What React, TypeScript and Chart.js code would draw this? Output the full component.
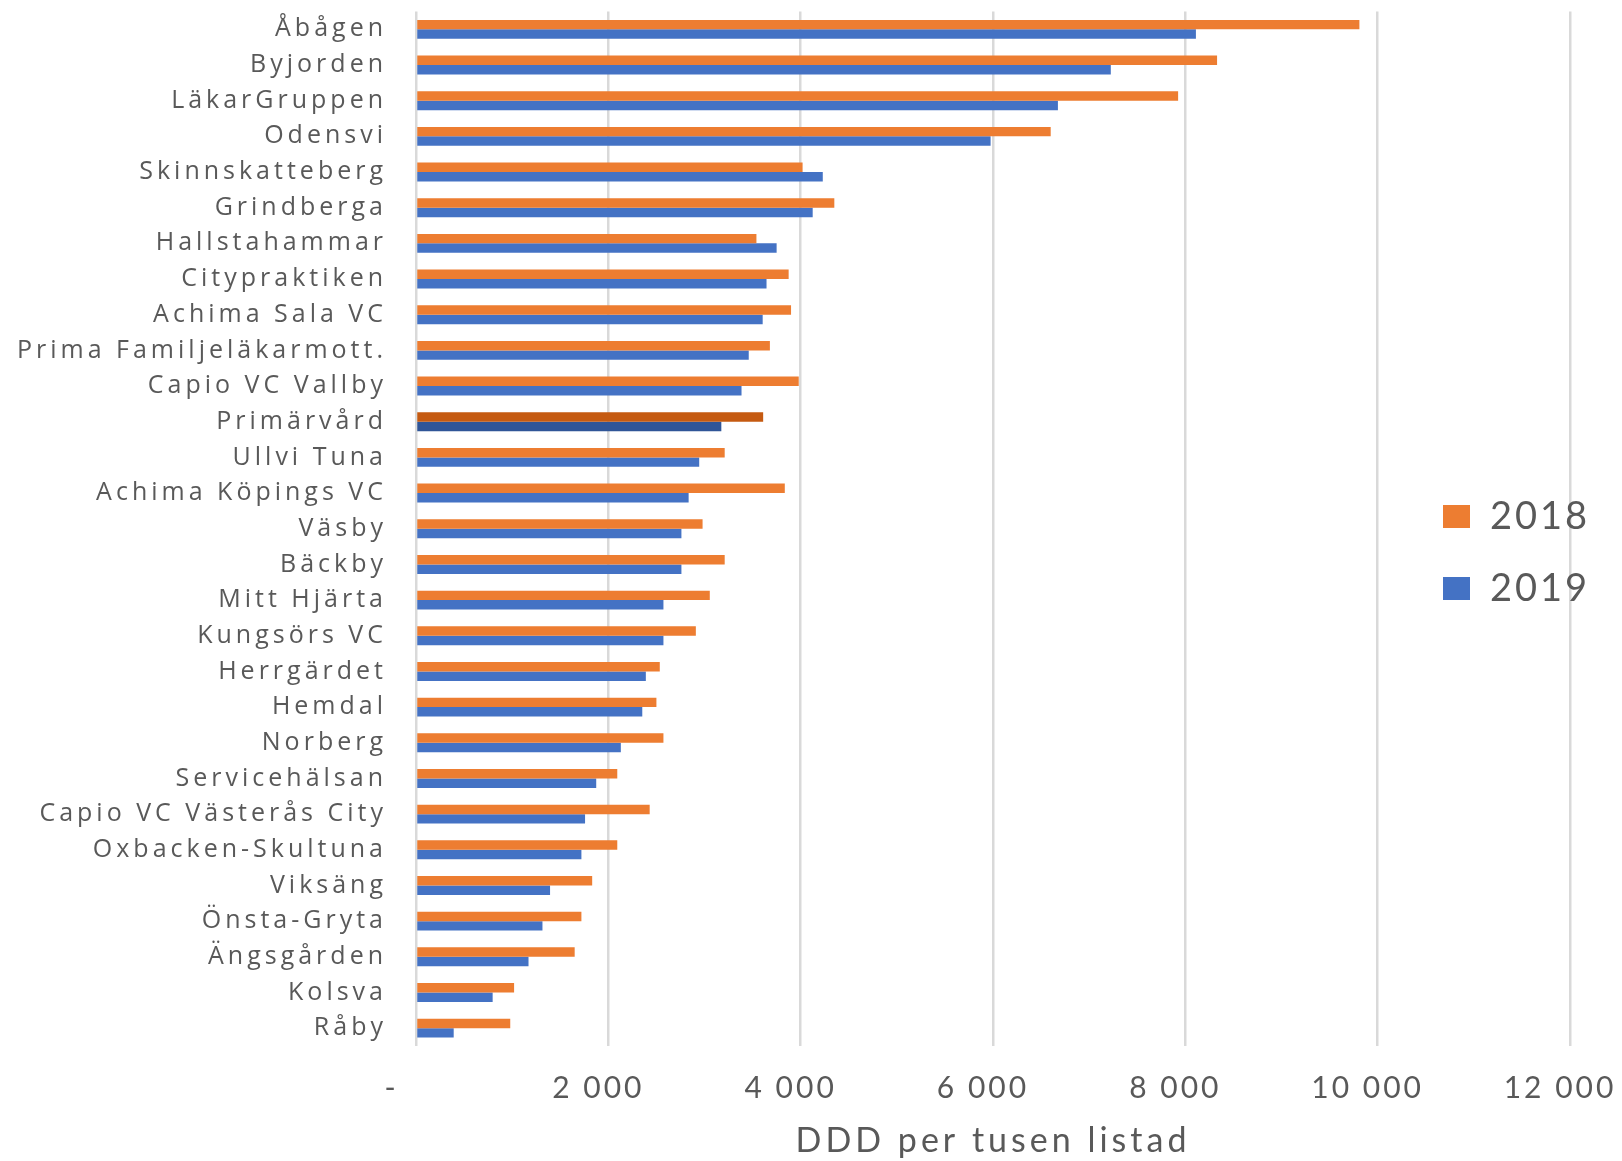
import React, { useEffect, useRef } from "react";
import { Chart, registerables } from "chart.js";

Chart.register(...registerables);

const categories = [
  "Åbågen", "Byjorden", "LäkarGruppen", "Odensvi", "Skinnskatteberg", "Grindberga",
  "Hallstahammar", "Citypraktiken", "Achima Sala VC", "Prima Familjeläkarmott.",
  "Capio VC Vallby", "Primärvård", "Ullvi Tuna", "Achima Köpings VC", "Väsby", "Bäckby",
  "Mitt Hjärta", "Kungsörs VC", "Herrgärdet", "Hemdal", "Norberg", "Servicehälsan",
  "Capio VC Västerås City", "Oxbacken-Skultuna", "Viksäng", "Önsta-Gryta", "Ängsgården",
  "Kolsva", "Råby",
];

const values2018 = [
  9810, 8330, 7925, 6600, 4020, 4350, 3540, 3875, 3900, 3680, 3980, 3610, 3210, 3835,
  2980, 3210, 3055, 2910, 2535, 2500, 2573, 2093, 2430, 2093, 1832, 1720, 1650, 1020, 980,
];

const values2019 = [
  8110, 7225, 6675, 5975, 4230, 4125, 3750, 3645, 3605, 3460, 3385, 3175, 2945, 2835,
  2760, 2760, 2573, 2573, 2390, 2353, 2130, 1874, 1758, 1720, 1394, 1315, 1170, 797, 392,
];

const seriesLabels = ["2018", "2019"];
const xTickLabels = ["-", "2 000", "4 000", "6 000", "8 000", "10 000", "12 000"];
const highlight = "Primärvård";

const ORANGE = "#ED7D31";
const ORANGE_DARK = "#C55A11";
const BLUE = "#4472C4";
const BLUE_DARK = "#2F5597";
const TEXT = "#595959";

function withSpacing(scale: any, method: string, spacing: string) {
  const key = "__patched_" + method;
  if (scale[key]) return;
  const orig = scale[method].bind(scale);
  scale[method] = (...args: any[]) => {
    const ctx = scale.ctx;
    ctx.save();
    ctx.letterSpacing = spacing;
    orig(...args);
    ctx.restore();
  };
  scale[key] = true;
}

const legendPlugin = {
  id: "customLegend",
  afterDraw(chart: any) {
    const ctx = chart.ctx;
    const items = chart.data.datasets.map((d: any) => ({ label: d.label, color: d.legendColor }));
    ctx.save();
    ctx.font = "38px Lato";
    ctx.letterSpacing = "3px";
    ctx.textBaseline = "middle";
    ctx.textAlign = "left";
    const centers = [516, 588];
    items.forEach((it: any, i: number) => {
      const cy = centers[i];
      ctx.fillStyle = it.color;
      ctx.fillRect(1443, cy - 11, 27, 23);
      ctx.fillStyle = TEXT;
      ctx.fillText(it.label, 1490, cy + 1);
    });
    ctx.restore();
  },
};

export default function App() {
  const ref = useRef<HTMLCanvasElement | null>(null);
  useEffect(() => {
    if (!ref.current) return;
    const chart = new Chart(ref.current, {
      type: "bar",
      data: {
        labels: categories,
        datasets: [
          {
            label: seriesLabels[0],
            data: values2018,
            backgroundColor: categories.map((c) => (c === highlight ? ORANGE_DARK : ORANGE)),
            legendColor: ORANGE,
            categoryPercentage: 0.53,
            barPercentage: 1,
          } as any,
          {
            label: seriesLabels[1],
            data: values2019,
            backgroundColor: categories.map((c) => (c === highlight ? BLUE_DARK : BLUE)),
            legendColor: BLUE,
            categoryPercentage: 0.53,
            barPercentage: 1,
          } as any,
        ],
      },
      options: {
        indexAxis: "y",
        responsive: false,
        animation: false,
        layout: { padding: { left: 0, right: 52, top: 11.5, bottom: 0 } },
        plugins: {
          legend: { display: false },
          tooltip: { enabled: false },
        },
        scales: {
          x: {
            type: "linear",
            min: 0,
            max: 12000,
            border: { display: false },
            grid: { color: "#D9D9D9", lineWidth: 2.5, drawTicks: false },
            ticks: {
              stepSize: 2000,
              padding: 24,
              labelOffset: -10,
              color: TEXT,
              font: { family: "Lato", size: 30 },
              callback: (_v: any, i: number) => (i === 0 ? xTickLabels[i] + "\u2002 " : xTickLabels[i]),
            },
            title: {
              display: true,
              text: "DDD per tusen listad",
              color: TEXT,
              font: { family: "Lato", size: 34 },
              padding: { top: 0, bottom: 0 },
            },
            afterFit: (s: any) => {
              s.height = 115;
              s.paddingLeft = 0;
              s.paddingRight = 0;
              withSpacing(s, "drawLabels", "3px");
              withSpacing(s, "drawTitle", "4px");
            },
          },
          y: {
            type: "category",
            border: { display: false },
            grid: { display: false, drawTicks: false },
            ticks: {
              padding: 29,
              color: TEXT,
              font: { family: "Open Sans", size: 25 },
              autoSkip: false,
            },
            afterFit: (s: any) => {
              s.width = 416;
              s.paddingTop = 0;
              s.paddingBottom = 0;
              withSpacing(s, "drawLabels", "4px");
            },
          },
        },
      },
      plugins: [legendPlugin],
    } as any);
    return () => chart.destroy();
  }, []);
  return (
    <div style={{ position: "absolute", left: 0, top: 0, width: 1622, height: 1161, background: "#fff" }}>
      <canvas ref={ref} width={1622} height={1161} />
    </div>
  );
}
